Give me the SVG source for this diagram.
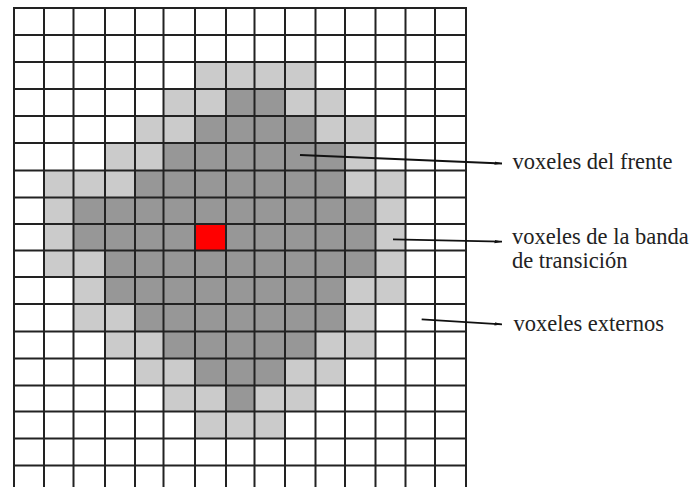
<svg xmlns="http://www.w3.org/2000/svg" width="696" height="487" viewBox="0 0 696 487">
<defs>
<style>
.l{fill:#cbcbcb}
.d{fill:#979797}
.r{fill:#ff0000}
.g line{stroke:#222;stroke-width:2}
.t{font-size:22.5px;fill:#222}
.c{stroke:#111;stroke-width:1.8;fill:none}
</style>
<marker id="tip" viewBox="0 0 8 4" refX="7.5" refY="2" markerWidth="8" markerHeight="4" markerUnits="userSpaceOnUse" orient="auto">
<path d="M0,0.4 L8,2 L0,3.6 Z" fill="#111"/>
</marker>
</defs>
<rect x="0" y="0" width="696" height="487" fill="#ffffff"/>
<g id="cells">
<rect class="l" x="195" y="62" width="120.5" height="27"/>
<rect class="l" x="163.5" y="89" width="62.5" height="27"/>
<rect class="d" x="226" y="89" width="59" height="27"/>
<rect class="l" x="285" y="89" width="60" height="27"/>
<rect class="l" x="135" y="116" width="60" height="27"/>
<rect class="d" x="195" y="116" width="120.5" height="27"/>
<rect class="l" x="315.5" y="116" width="60" height="27"/>
<rect class="l" x="105" y="143" width="58.5" height="27.5"/>
<rect class="d" x="163.5" y="143" width="181.5" height="27.5"/>
<rect class="l" x="345" y="143" width="30.5" height="27.5"/>
<rect class="l" x="44" y="170.5" width="91" height="27"/>
<rect class="d" x="135" y="170.5" width="210" height="27"/>
<rect class="l" x="345" y="170.5" width="60.5" height="27"/>
<rect class="l" x="44" y="197.5" width="29.5" height="26.5"/>
<rect class="d" x="73.5" y="197.5" width="302" height="26.5"/>
<rect class="l" x="375.5" y="197.5" width="30" height="26.5"/>
<rect class="l" x="44" y="224" width="29.5" height="26.5"/>
<rect class="d" x="73.5" y="224" width="302" height="26.5"/>
<rect class="l" x="375.5" y="224" width="30" height="26.5"/>
<rect class="l" x="44" y="250.5" width="61" height="26.5"/>
<rect class="d" x="105" y="250.5" width="270.5" height="26.5"/>
<rect class="l" x="375.5" y="250.5" width="30" height="26.5"/>
<rect class="l" x="73.5" y="277" width="31.5" height="27"/>
<rect class="d" x="105" y="277" width="240" height="27"/>
<rect class="l" x="345" y="277" width="60.5" height="27"/>
<rect class="l" x="73.5" y="304" width="61.5" height="27.5"/>
<rect class="d" x="135" y="304" width="210" height="27.5"/>
<rect class="l" x="345" y="304" width="30.5" height="27.5"/>
<rect class="l" x="105" y="331.5" width="58.5" height="27"/>
<rect class="d" x="163.5" y="331.5" width="152" height="27"/>
<rect class="l" x="315.5" y="331.5" width="60" height="27"/>
<rect class="l" x="135" y="358.5" width="60" height="27"/>
<rect class="d" x="195" y="358.5" width="90" height="27"/>
<rect class="l" x="285" y="358.5" width="60" height="27"/>
<rect class="l" x="163.5" y="385.5" width="62.5" height="26"/>
<rect class="d" x="226" y="385.5" width="28.5" height="26"/>
<rect class="l" x="254.5" y="385.5" width="61" height="26"/>
<rect class="l" x="195" y="411.5" width="90" height="27"/>
</g>
<g id="centre-voxel">
<rect class="r" x="195" y="224" width="31" height="26.5"/>
</g>
<g id="grid" class="g">
<line x1="14" y1="8" x2="14" y2="487"/>
<line x1="44" y1="8" x2="44" y2="487"/>
<line x1="73.5" y1="8" x2="73.5" y2="487"/>
<line x1="105" y1="8" x2="105" y2="487"/>
<line x1="135" y1="8" x2="135" y2="487"/>
<line x1="163.5" y1="8" x2="163.5" y2="487"/>
<line x1="195" y1="8" x2="195" y2="487"/>
<line x1="226" y1="8" x2="226" y2="487"/>
<line x1="254.5" y1="8" x2="254.5" y2="487"/>
<line x1="285" y1="8" x2="285" y2="487"/>
<line x1="315.5" y1="8" x2="315.5" y2="487"/>
<line x1="345" y1="8" x2="345" y2="487"/>
<line x1="375.5" y1="8" x2="375.5" y2="487"/>
<line x1="405.5" y1="8" x2="405.5" y2="487"/>
<line x1="435" y1="8" x2="435" y2="487"/>
<line x1="466" y1="8" x2="466" y2="487"/>
<line x1="13" y1="8" x2="467" y2="8"/>
<line x1="13" y1="35" x2="467" y2="35"/>
<line x1="13" y1="62" x2="467" y2="62"/>
<line x1="13" y1="89" x2="467" y2="89"/>
<line x1="13" y1="116" x2="467" y2="116"/>
<line x1="13" y1="143" x2="467" y2="143"/>
<line x1="13" y1="170.5" x2="467" y2="170.5"/>
<line x1="13" y1="197.5" x2="467" y2="197.5"/>
<line x1="13" y1="224" x2="467" y2="224"/>
<line x1="13" y1="250.5" x2="467" y2="250.5"/>
<line x1="13" y1="277" x2="467" y2="277"/>
<line x1="13" y1="304" x2="467" y2="304"/>
<line x1="13" y1="331.5" x2="467" y2="331.5"/>
<line x1="13" y1="358.5" x2="467" y2="358.5"/>
<line x1="13" y1="385.5" x2="467" y2="385.5"/>
<line x1="13" y1="411.5" x2="467" y2="411.5"/>
<line x1="13" y1="438.5" x2="467" y2="438.5"/>
<line x1="13" y1="465.5" x2="467" y2="465.5"/>
</g>
<g id="connectors">
<line class="c" x1="300" y1="155" x2="502" y2="163.5" marker-end="url(#tip)"/>
<line class="c" x1="393" y1="239.3" x2="502" y2="241.7" marker-end="url(#tip)"/>
<line class="c" x1="421.7" y1="319.3" x2="502" y2="324.3" marker-end="url(#tip)"/>
</g>
<g id="label-frente">
<text class="t" font-family="Liberation Serif, DejaVu Serif, serif" x="512.5" y="169.3">voxeles del frente</text>
</g>
<g id="label-banda">
<text class="t" font-family="Liberation Serif, DejaVu Serif, serif" x="512" y="244">voxeles de la banda</text>
<text class="t" font-family="Liberation Serif, DejaVu Serif, serif" x="512" y="267.5">de transición</text>
</g>
<g id="label-externos">
<text class="t" font-family="Liberation Serif, DejaVu Serif, serif" x="513.5" y="331">voxeles externos</text>
</g>
</svg>
